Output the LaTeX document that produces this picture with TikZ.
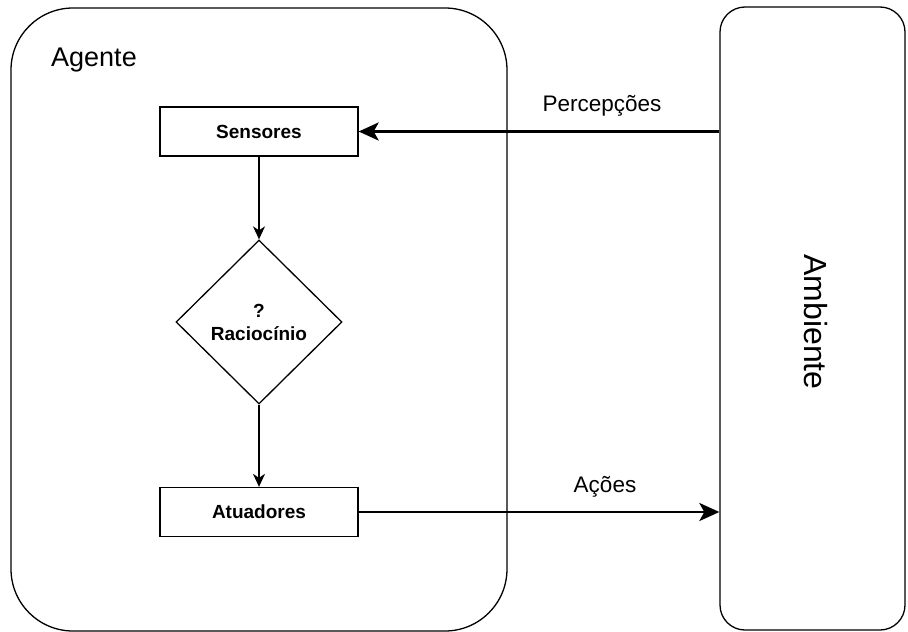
\documentclass[tikz,border=0pt]{standalone}
\usepackage{fontspec}
\setmainfont{Liberation Sans}
\usetikzlibrary{arrows.meta,shapes.geometric}
\begin{document}
\begin{tikzpicture}[x=1pt,y=-1pt,
  bigbox/.style={draw,line width=1.3pt,inner sep=0pt},
  stepbox/.style={draw,line width=1.3pt,minimum width=198pt,minimum height=49pt,inner sep=0pt,font=\fontsize{19}{22}\selectfont\bfseries},
  decide/.style={draw,diamond,line width=1.3pt,minimum width=166pt,minimum height=164pt,inner sep=0pt,aspect=1.01,font=\fontsize{19}{23}\selectfont\bfseries,align=center},
  thin/.style={line width=1.4pt,-{Stealth[length=13pt,width=12pt,inset=4pt]}},
  thick/.style={line width=2.8pt,-{Stealth[length=20pt,width=18pt,inset=5pt]}},
  lbl/.style={font=\fontsize{22.5}{26}\selectfont,inner sep=0pt}]
\useasboundingbox (0,0) rectangle (908,632);
\fill[white] (0,0) rectangle (908,632);
\node[bigbox,rounded corners=62pt,minimum width=496pt,minimum height=623pt] (agent) at (259,319.5) {};
\node[bigbox,rounded corners=25pt,minimum width=185pt,minimum height=623pt] (env) at (812.5,318.5) {};
\node[lbl,font=\fontsize{27}{30}\selectfont,anchor=base west] (agentlbl) at (51,66.5) {Agente};
\node[lbl,font=\fontsize{32}{36}\selectfont,rotate=-90] (envlbl) at (816,322) {Ambiente};
\node[stepbox] (sens) at (259,131.5) {Sensores};
\node[decide] (reas) at (259,322) {?\\Raciocínio};
\node[stepbox] (act) at (259,512) {Atuadores};
\draw[thin] (sens) -- (reas);
\draw[thin] (reas) -- (act);
\coordinate (pin) at (env.west |- sens);
\coordinate (aout) at (env.west |- act);
\draw[thick] (pin) -- (sens.east) node[lbl,midway,above=14pt,xshift=63pt] (plbl) {Percepções};
\draw[thick] (act.east) -- (aout) node[lbl,midway,above=13pt,xshift=66pt] (albl) {Ações};
\end{tikzpicture}
\end{document}
